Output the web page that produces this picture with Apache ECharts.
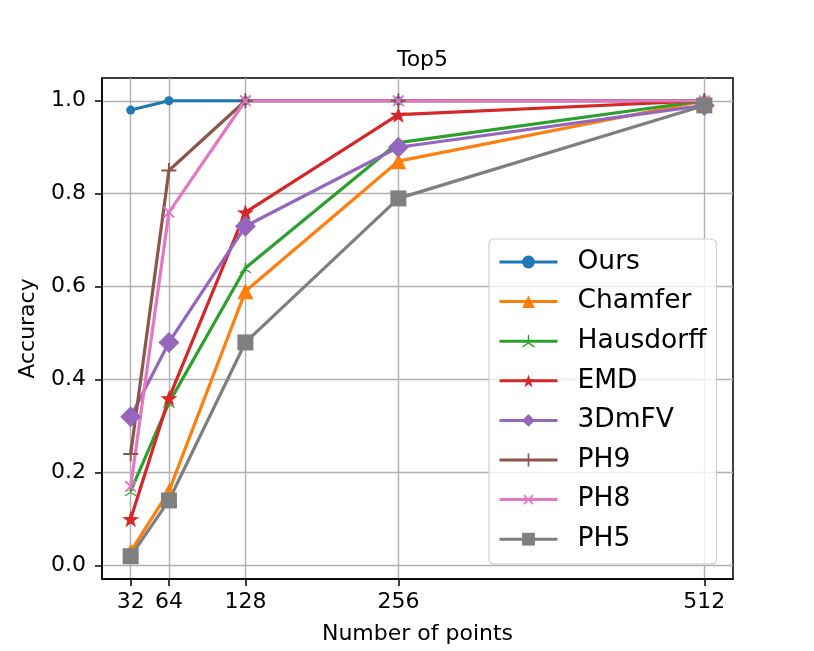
<!doctype html>
<html>
    <head>
        <meta charset="utf-8">
        <title>Top5 accuracy</title>
        <style>
            html, body { margin: 0; padding: 0; background: #fff; }
            #main { width: 814px; height: 651px; }
        </style>
    </head>
    <body>
        <div id="main"></div>
        <script src="https://cdn.jsdelivr.net/npm/echarts@6/dist/echarts.min.js"></script>
        <script>
            var chart = echarts.init(document.getElementById('main'));

            var points = [32, 64, 128, 256, 512];
            var yTicks = [0, 0.2, 0.4, 0.6, 0.8, 1.0];

            var ours      = [0.98, 1.00, 1.00, 1.00, 1.00];
            var chamfer   = [0.03, 0.16, 0.59, 0.87, 1.00];
            var hausdorff = [0.16, 0.35, 0.64, 0.91, 1.00];
            var emd       = [0.10, 0.36, 0.76, 0.97, 1.00];
            var dmfv      = [0.32, 0.48, 0.73, 0.90, 0.99];
            var ph9       = [0.24, 0.85, 1.00, 1.00, 1.00];
            var ph8       = [0.17, 0.76, 1.00, 1.00, 1.00];
            var ph5       = [0.02, 0.14, 0.48, 0.79, 0.99];

            var names = ['Ours', 'Chamfer', 'Hausdorff', 'EMD', '3DmFV', 'PH9', 'PH8', 'PH5'];
            var colors = ['#1f77b4', '#ff7f0e', '#2ca02c', '#d62728', '#9467bd', '#8c564b', '#e377c2', '#7f7f7f'];

            // marker shapes (matplotlib look-alikes)
            var STAR = 'path://M0,-1 L0.235,-0.324 L0.951,-0.309 L0.380,0.124 L0.588,0.809 L0,0.4 L-0.588,0.809 L-0.380,0.124 L-0.951,-0.309 L-0.235,-0.324 Z';
            var PLUS = 'path://M-1,-0.13 L-0.13,-0.13 L-0.13,-1 L0.13,-1 L0.13,-0.13 L1,-0.13 L1,0.13 L0.13,0.13 L0.13,1 L-0.13,1 L-0.13,0.13 L-1,0.13 Z';
            var TRI = 'path://M-0.1,0 L-0.1,-1 L0.1,-1 L0.1,0 Z M-0.05,-0.087 L-0.916,0.413 L-0.816,0.587 L0.05,0.087 Z M-0.05,0.087 L0.816,0.587 L0.916,0.413 L0.05,-0.087 Z';

            var markers = [
                { symbol: 'circle', size: 9 },
                { symbol: 'triangle', size: 16 },
                { symbol: TRI, size: 12 },
                { symbol: STAR, size: 17 },
                { symbol: 'diamond', size: 21 },
                { symbol: PLUS, size: 15 },
                { symbol: PLUS, size: 15, rotate: 45 },
                { symbol: 'rect', size: 16 }
            ];
            var values = [ours, chamfer, hausdorff, emd, dmfv, ph9, ph8, ph5];

            function pairs(ys) {
                return ys.map(function (y, i) { return [points[i], y]; });
            }

            var series = values.map(function (ys, k) {
                return {
                    name: names[k],
                    type: 'line',
                    data: pairs(ys),
                    symbol: markers[k].symbol,
                    symbolSize: markers[k].size,
                    symbolRotate: markers[k].rotate || 0,
                    symbolKeepAspect: true,
                    showAllSymbol: true,
                    color: colors[k],
                    lineStyle: { width: 3.2, color: colors[k] },
                    itemStyle: { color: colors[k] },
                    emphasis: { disabled: true },
                    animation: false
                };
            });

            var font = 'DejaVu Sans';

            chart.setOption({
                backgroundColor: '#fff',
                textStyle: { fontFamily: font },
                title: {
                    text: 'Top5',
                    left: 417.5,
                    textAlign: 'center',
                    top: 44,
                    textStyle: { fontFamily: font, fontSize: 22, fontWeight: 'normal', color: '#000' }
                },
                grid: {
                    left: 102, right: 81, top: 78, bottom: 72,
                    show: true,
                    borderColor: '#000',
                    borderWidth: 1.5,
                    backgroundColor: 'transparent'
                },
                legend: {
                    orient: 'vertical',
                    left: 489,
                    top: 239,
                    padding: [8, 10, 10, 9],
                    itemWidth: 58,
                    itemHeight: 16,
                    itemGap: 9.6,
                    selectedMode: false,
                    backgroundColor: 'rgba(255,255,255,0.8)',
                    borderColor: '#d0d0d0',
                    borderWidth: 1.2,
                    borderRadius: 5,
                    lineStyle: { width: 3 },
                    textStyle: {
                        fontFamily: font, fontSize: 26.5, color: '#000',
                        lineHeight: 30, padding: [0, 0, 0, 15]
                    },
                    data: names
                },
                xAxis: {
                    type: 'value',
                    min: 8,
                    max: 536,
                    name: 'Number of points',
                    nameLocation: 'middle',
                    nameGap: 44,
                    nameTextStyle: { fontFamily: font, fontSize: 22, color: '#000' },
                    axisLine: { show: true, onZero: false, lineStyle: { color: '#000', width: 1.5 } },
                    axisTick: { show: true, inside: false, length: 7, customValues: points, lineStyle: { color: '#000', width: 1.5 } },
                    axisLabel: { customValues: points, margin: 12, fontFamily: font, fontSize: 22, color: '#000' },
                    splitLine: { show: true, lineStyle: { color: '#b0b0b0', width: 1.4 } }
                },
                yAxis: {
                    type: 'value',
                    min: -0.029,
                    max: 1.049,
                    name: 'Accuracy',
                    nameLocation: 'middle',
                    nameGap: 63,
                    nameTextStyle: { fontFamily: font, fontSize: 22, color: '#000' },
                    axisLine: { show: true, onZero: false, lineStyle: { color: '#000', width: 1.5 } },
                    axisTick: { show: true, inside: false, length: 7, customValues: yTicks, lineStyle: { color: '#000', width: 1.5 } },
                    axisLabel: {
                        customValues: yTicks, margin: 16, fontFamily: font, fontSize: 22, color: '#000',
                        formatter: function (v) { return v.toFixed(1); }
                    },
                    splitLine: { show: true, lineStyle: { color: '#b0b0b0', width: 1.4 } }
                },
                series: series
            });

            window.onresize = chart.resize;
        </script>
    </body>
</html>
